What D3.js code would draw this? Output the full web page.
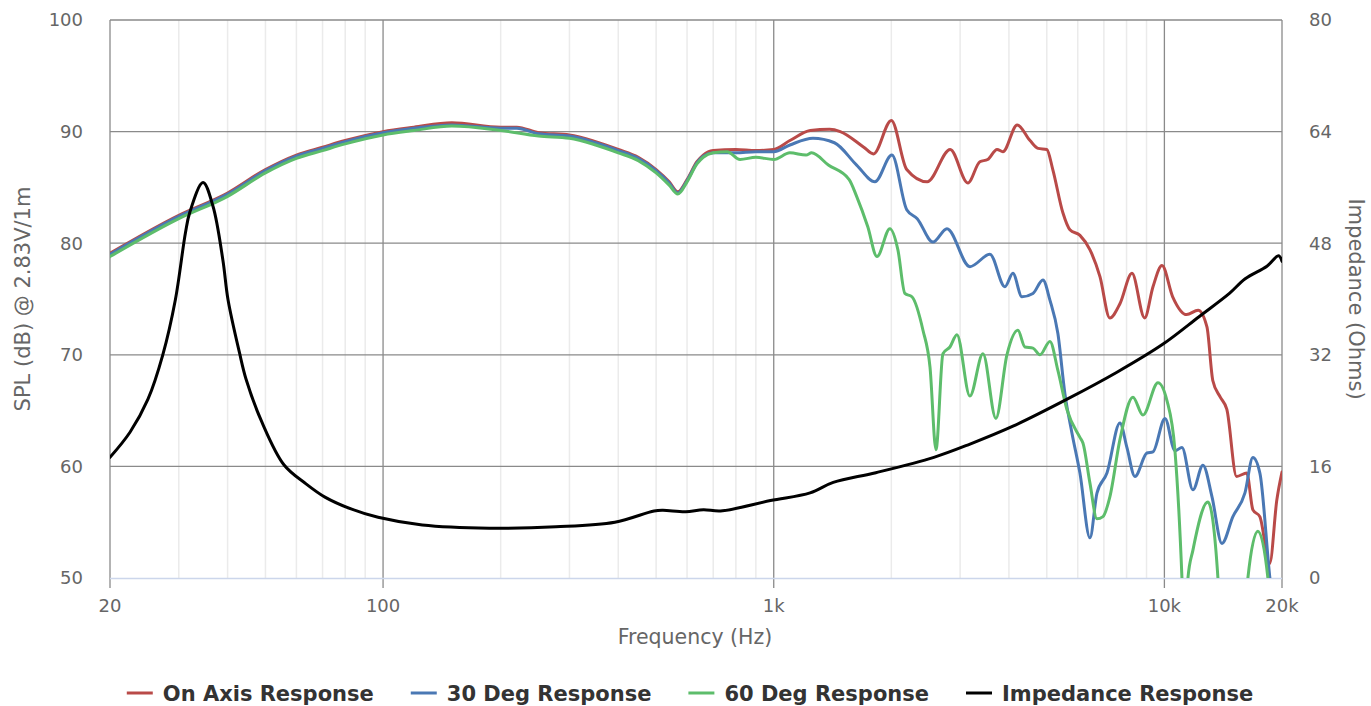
<!DOCTYPE html>
<html>
<head>
<meta charset="utf-8">
<script src="https://cdn.jsdelivr.net/npm/d3@7"></script>
<style>
  html, body { margin: 0; padding: 0; background: #fff; }
  body { width: 1371px; height: 706px; overflow: hidden; font-family: "DejaVu Sans", sans-serif; }
</style>
</head>
<body>
<script>
// frequency response data (Hz, dB)
var onAxisFreq = [20, 30, 40, 50, 60, 70, 80, 100, 120, 150, 200, 220, 250, 300, 350, 400, 450, 500, 540, 568, 600, 636, 660, 700, 800, 900, 1000, 1100, 1240, 1390, 1480, 1700, 1800, 2000, 2190, 2470, 2830, 3140, 3370, 3530, 3730, 3860, 4200, 4530, 4750, 5000, 5180, 5500, 5730, 6080, 6450, 6840, 7250, 7700, 8260, 8900, 9350, 9860, 10500, 11400, 12200, 12850, 13300, 13900, 14450, 15300, 16250, 16850, 17550, 18600, 19400, 20000];
var onAxisSpl = [79.1, 82.5, 84.5, 86.6, 87.9, 88.6, 89.2, 90.0, 90.4, 90.8, 90.4, 90.4, 89.9, 89.7, 89.1, 88.4, 87.7, 86.6, 85.5, 84.6, 85.7, 87.3, 87.9, 88.3, 88.4, 88.3, 88.4, 89.2, 90.1, 90.2, 90.0, 88.6, 88.0, 91.0, 86.6, 85.5, 88.4, 85.4, 87.3, 87.5, 88.4, 88.2, 90.6, 89.2, 88.5, 88.4, 86.6, 82.7, 81.2, 80.7, 79.4, 77.0, 73.3, 74.6, 77.3, 73.3, 76.1, 78.0, 75.2, 73.6, 74.0, 72.5, 67.7, 66.2, 65.1, 59.1, 59.4, 56.1, 55.5, 51.3, 57.0, 59.5];

var deg30Freq = [20, 30, 40, 50, 60, 70, 80, 100, 120, 150, 200, 220, 250, 300, 350, 400, 450, 500, 540, 568, 600, 636, 660, 700, 800, 900, 1000, 1100, 1260, 1430, 1630, 1816, 2007, 2190, 2330, 2556, 2776, 3178, 3576, 3906, 4095, 4318, 4608, 4887, 5093, 5338, 5564, 5798, 6078, 6448, 6720, 7128, 7694, 8017, 8406, 9021, 9348, 10035, 10643, 11090, 11832, 12550, 13235, 14036, 14974, 16069, 16846, 17556, 18621, 19407, 20000];
var deg30Spl = [79.0, 82.4, 84.4, 86.5, 87.8, 88.5, 89.1, 89.9, 90.3, 90.6, 90.3, 90.3, 89.8, 89.6, 89.0, 88.3, 87.6, 86.5, 85.4, 84.5, 85.6, 87.2, 87.8, 88.1, 88.1, 88.2, 88.2, 88.8, 89.4, 89.0, 87.0, 85.5, 87.9, 83.0, 82.2, 80.1, 81.3, 77.9, 79.0, 76.1, 77.3, 75.2, 75.5, 76.7, 74.9, 71.9, 66.5, 63.0, 59.4, 53.6, 57.6, 59.4, 63.9, 61.7, 59.1, 61.2, 61.3, 64.3, 61.4, 61.7, 57.9, 60.1, 57.3, 53.1, 55.5, 57.6, 60.8, 59.4, 50.0, 45.0, 42.0];

var deg60Freq = [20, 30, 40, 50, 60, 70, 80, 100, 120, 150, 200, 250, 300, 350, 400, 450, 500, 540, 568, 600, 636, 660, 700, 760, 820, 900, 1000, 1100, 1210, 1250, 1380, 1560, 1630, 1740, 1838, 1983, 2079, 2166, 2258, 2410, 2512, 2602, 2711, 2825, 2944, 3178, 3432, 3704, 3953, 4217, 4395, 4608, 4802, 5093, 5338, 5630, 6078, 6187, 6448, 6720, 6962, 7254, 7694, 8307, 8811, 9628, 10152, 10643, 11090, 11300, 11489, 11832, 12926, 13710, 14000, 16000, 16358, 17349, 18404, 19000, 20000];
var deg60Spl = [78.8, 82.2, 84.2, 86.3, 87.6, 88.3, 88.9, 89.7, 90.1, 90.5, 90.1, 89.6, 89.4, 88.8, 88.1, 87.4, 86.3, 85.2, 84.4, 85.5, 87.1, 87.7, 88.1, 88.2, 87.5, 87.7, 87.5, 88.1, 87.9, 88.1, 87.0, 85.7, 84.2, 81.5, 78.8, 81.3, 79.4, 75.5, 75.2, 72.2, 68.9, 61.5, 70.1, 70.7, 71.8, 66.3, 70.1, 64.3, 70.0, 72.2, 70.7, 70.6, 70.0, 71.2, 68.6, 65.1, 62.6, 62.1, 58.5, 55.3, 55.5, 57.3, 62.4, 66.2, 64.6, 67.5, 65.9, 61.4, 50.0, 42.0, 50.0, 52.5, 56.8, 50.0, 42.0, 42.0, 50.0, 54.2, 50.0, 42.0, 40.0];

// impedance (Hz, Ohms)
var impFreq = [20, 22.5, 25, 27.3, 29.4, 31.2, 32, 34.6, 36.7, 38.9, 40.1, 42.9, 44.6, 49.0, 55.8, 63.5, 71.0, 82.8, 97.1, 126, 187, 277, 392, 494, 520, 595, 661, 731, 981, 1239, 1420, 1825, 2570, 3180, 4110, 5620, 7560, 9900, 12290, 14670, 16100, 18300, 19600, 20000];
var impOhms = [17.3, 20.9, 25.6, 32.0, 39.9, 49.5, 52.4, 56.7, 53.3, 45.6, 39.9, 32.3, 28.5, 22.3, 16.2, 13.5, 11.6, 9.9, 8.7, 7.6, 7.15, 7.35, 8.0, 9.6, 9.7, 9.5, 9.8, 9.6, 11.1, 12.2, 13.7, 15.1, 17.3, 19.2, 21.8, 25.6, 29.5, 33.5, 37.5, 40.8, 42.9, 44.7, 46.2, 45.4];

var xMajor = [20, 100, 1000, 10000, 20000];
var xMajorLabels = ["20", "100", "1k", "10k", "20k"];
var xMinor = [30, 40, 50, 60, 70, 80, 90, 200, 300, 400, 500, 600, 700, 800, 900, 2000, 3000, 4000, 5000, 6000, 7000, 8000, 9000];
var splTicks = [50, 60, 70, 80, 90, 100];
var ohmTicks = [0, 16, 32, 48, 64, 80];

var series = [
    { name: "On Axis Response", color: "#b94a48", freq: onAxisFreq, vals: onAxisSpl, axis: "spl" },
    { name: "30 Deg Response", color: "#4a78b4", freq: deg30Freq, vals: deg30Spl, axis: "spl" },
    { name: "60 Deg Response", color: "#5dbd6b", freq: deg60Freq, vals: deg60Spl, axis: "spl" },
    { name: "Impedance Response", color: "#000000", freq: impFreq, vals: impOhms, axis: "ohm" }
];

// plot box (window.top is read-only, so use other names)
var plotLeft = 110, plotRight = 1282, plotTop = 20, plotBottom = 578;

var x = d3.scaleLog().domain([20, 20000]).range([plotLeft, plotRight]);
var y = d3.scaleLinear().domain([50, 100]).range([plotBottom, plotTop]);
var yR = d3.scaleLinear().domain([0, 80]).range([plotBottom, plotTop]);

var svg = d3.select("body")
    .append("svg")
    .attr("width", 1371)
    .attr("height", 706);

svg.append("defs").append("clipPath")
    .attr("id", "plotclip")
    .append("rect")
    .attr("x", plotLeft)
    .attr("y", plotTop - 2)
    .attr("width", plotRight - plotLeft)
    .attr("height", plotBottom - plotTop + 2);

// minor vertical grid
svg.append("g").selectAll("line")
    .data(xMinor)
    .enter().append("line")
    .attr("x1", function(d) { return x(d); })
    .attr("x2", function(d) { return x(d); })
    .attr("y1", plotTop)
    .attr("y2", plotBottom)
    .attr("stroke", "#ebebeb")
    .attr("stroke-width", 1.5);

// horizontal grid
svg.append("g").selectAll("line")
    .data(splTicks.slice(1))
    .enter().append("line")
    .attr("x1", plotLeft)
    .attr("x2", plotRight)
    .attr("y1", function(d) { return y(d); })
    .attr("y2", function(d) { return y(d); })
    .attr("stroke", "#8a8a8a")
    .attr("stroke-width", 1.3);

// major vertical grid, extending below as ticks
svg.append("g").selectAll("line")
    .data(xMajor)
    .enter().append("line")
    .attr("x1", function(d) { return x(d); })
    .attr("x2", function(d) { return x(d); })
    .attr("y1", plotTop)
    .attr("y2", plotBottom + 10)
    .attr("stroke", "#8a8a8a")
    .attr("stroke-width", 1.3);

// x axis line
svg.append("line")
    .attr("x1", plotLeft)
    .attr("x2", plotRight)
    .attr("y1", plotBottom + 0.5)
    .attr("y2", plotBottom + 0.5)
    .attr("stroke", "#ccd6eb")
    .attr("stroke-width", 1.5);

// tick labels
var labelStyle = function(sel) {
    sel.attr("font-family", "DejaVu Sans, sans-serif")
        .attr("font-size", 18)
        .attr("fill", "#666666");
};

svg.append("g").selectAll("text")
    .data(xMajor)
    .enter().append("text")
    .call(labelStyle)
    .attr("x", function(d) { return x(d); })
    .attr("y", plotBottom + 34)
    .attr("text-anchor", "middle")
    .text(function(d, i) { return xMajorLabels[i]; });

svg.append("g").selectAll("text")
    .data(splTicks)
    .enter().append("text")
    .call(labelStyle)
    .attr("x", plotLeft - 27)
    .attr("y", function(d) { return y(d); })
    .attr("dy", "0.36em")
    .attr("text-anchor", "end")
    .text(function(d) { return d; });

svg.append("g").selectAll("text")
    .data(ohmTicks)
    .enter().append("text")
    .call(labelStyle)
    .attr("x", plotRight + 27)
    .attr("y", function(d) { return yR(d); })
    .attr("dy", "0.36em")
    .attr("text-anchor", "start")
    .text(function(d) { return d; });

// axis titles
svg.append("text")
    .call(labelStyle)
    .attr("font-size", 20.5)
    .attr("x", 695)
    .attr("y", 644)
    .attr("text-anchor", "middle")
    .text("Frequency (Hz)");

svg.append("text")
    .call(labelStyle)
    .attr("font-size", 21)
    .attr("text-anchor", "middle")
    .attr("transform", "translate(30," + ((plotTop + plotBottom) / 2) + ") rotate(-90)")
    .text("SPL (dB) @ 2.83V/1m");

svg.append("text")
    .call(labelStyle)
    .attr("font-size", 21)
    .attr("text-anchor", "middle")
    .attr("transform", "translate(1349," + ((plotTop + plotBottom) / 2) + ") rotate(90)")
    .text("Impedance (Ohms)");

// the curves
var plot = svg.append("g").attr("clip-path", "url(#plotclip)");

series.forEach(function(s) {
    var yScale = s.axis === "ohm" ? yR : y;
    var line = d3.line()
        .x(function(d) { return x(d[0]); })
        .y(function(d) { return yScale(d[1]); })
        .curve(s.axis === "ohm" ? d3.curveCatmullRom.alpha(0.5) : d3.curveMonotoneX);
    plot.append("path")
        .datum(d3.zip(s.freq, s.vals))
        .attr("fill", "none")
        .attr("stroke", s.color)
        .attr("stroke-width", 3)
        .attr("stroke-linejoin", "round")
        .attr("stroke-linecap", "round")
        .attr("d", line);
});

// legend
var legend = svg.append("g");
var items = legend.selectAll("g")
    .data(series)
    .enter().append("g");

items.append("line")
    .attr("x1", 0)
    .attr("x2", 26)
    .attr("y1", 0)
    .attr("y2", 0)
    .attr("stroke", function(d) { return d.color; })
    .attr("stroke-width", 3);

items.append("text")
    .attr("x", 36)
    .attr("dy", "0.36em")
    .attr("font-family", "DejaVu Sans, sans-serif")
    .attr("font-size", 21)
    .attr("font-weight", "bold")
    .attr("fill", "#333333")
    .text(function(d) { return d.name; });

// lay out items side by side, centred
var pos = 0, offsets = [];
items.each(function() {
    offsets.push(pos);
    pos += 36 + this.querySelector("text").getComputedTextLength() + 37;
});
var total = pos - 37;
var start = 690 - total / 2;
items.attr("transform", function(d, i) {
    return "translate(" + (start + offsets[i]) + ",693)";
});
</script>
</body>
</html>
